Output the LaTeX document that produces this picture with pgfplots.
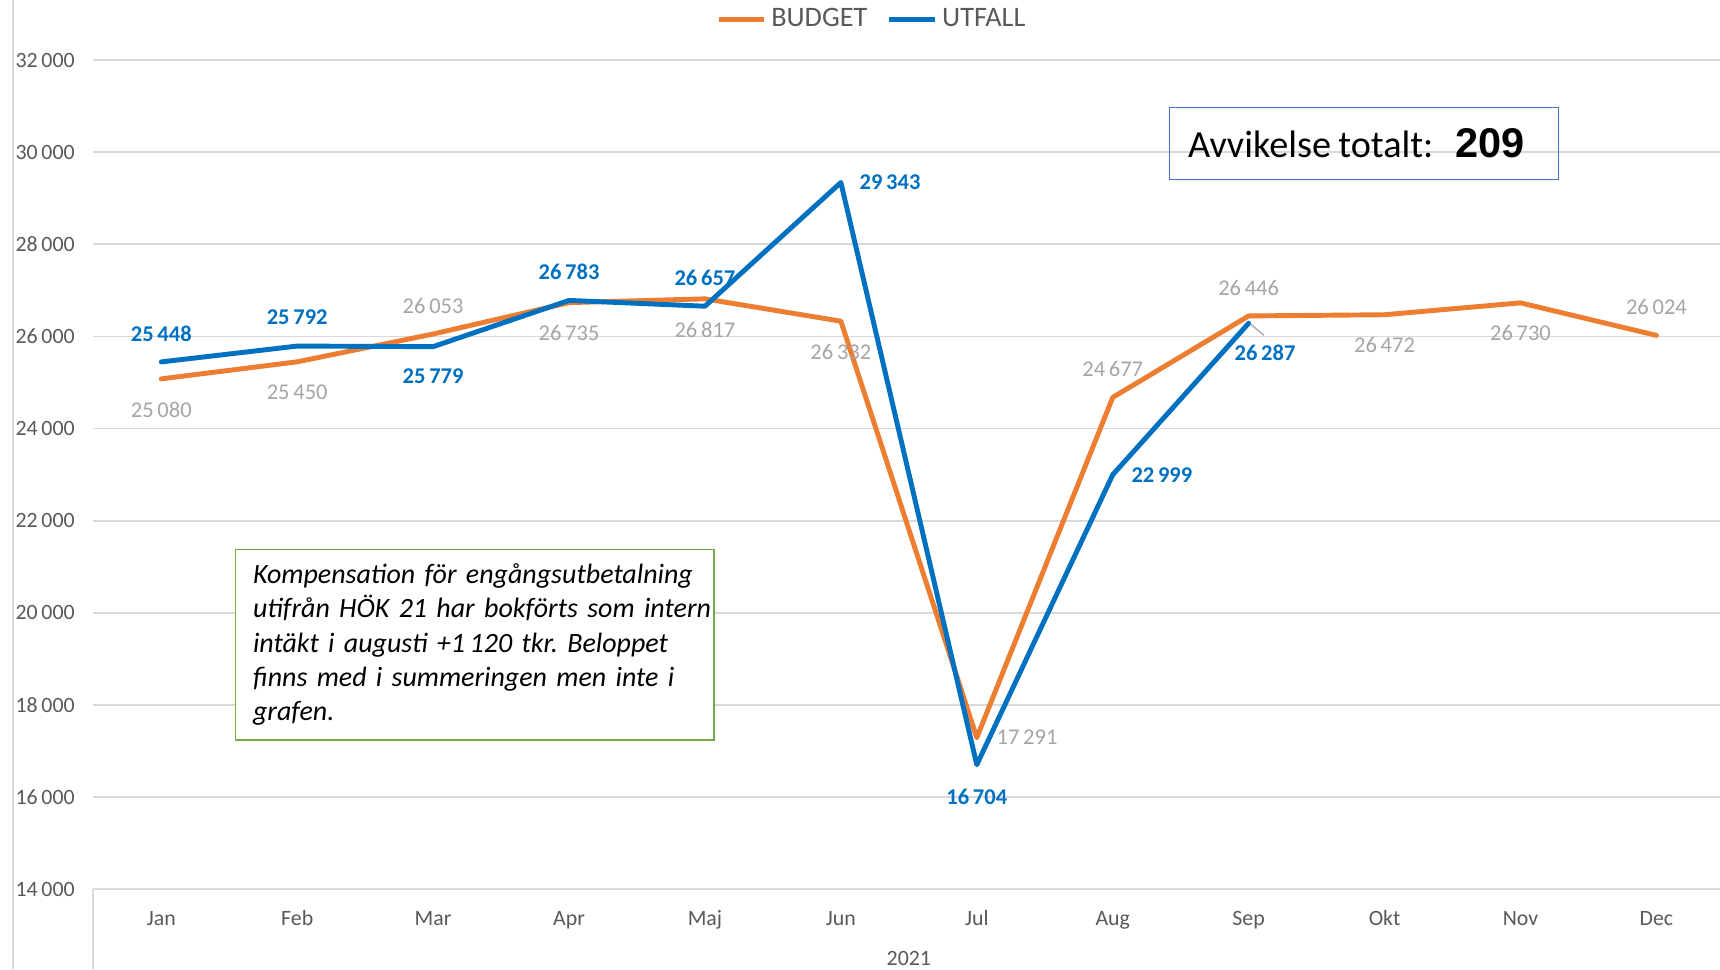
\documentclass[border=0pt]{standalone}
\usepackage{fontspec}
\setmainfont{Carlito}
\newfontfamily\arialfont{Liberation Sans}
\usepackage{pgfplots}
\pgfplotsset{compat=1.18}
\usepackage{pgfplotstable}
\definecolor{bud}{HTML}{ED7D31}
\definecolor{utf}{HTML}{0070C0}
\definecolor{gridc}{HTML}{D9D9D9}
\definecolor{tickc}{HTML}{595959}
\definecolor{lblg}{HTML}{A5A5A5}
\definecolor{boxb}{HTML}{4472C4}
\definecolor{boxg}{HTML}{70AD47}
\frenchspacing

\pgfplotstableread{
x y dx dy
0 25080 0 -14
1 25450 0 -14
2 26053 0 13
3 26735 0 -14
4 26817 0 -14
5 26332 0 -14
6 17291 23 0
7 24677 0 13
8 26446 0 13
9 26472 0 -14
10 26730 0 -14
11 26024 0 13
}\budget

\pgfplotstableread{
x y dx dy
0 25448 0 13
1 25792 0 13
2 25779 0 -13.5
3 26783 0 13
4 26657 0 13
5 29343 22.5 0
6 16704 0 -14.5
7 22999 22.5 0
8 26287 7.5 -13.5
}\utfall

\begin{document}
\begin{tikzpicture}
\path[use as bounding box] (-42.7pt,-36.5pt) rectangle (744.3pt,406.9pt);
\draw[gridc, line width=0.8pt] (-36.7pt,-36.5pt) -- (-36.7pt,406.9pt);
\begin{axis}[
  at={(0,0)}, anchor=south west,
  scale only axis, width=746.3pt, height=379.4pt,
  xmin=-0.5, xmax=11.5, ymin=14000, ymax=32000,
  xtick={0,...,11},
  xticklabels={Jan,Feb,Mar,Apr,Maj,Jun,Jul,Aug,Sep,Okt,Nov,Dec},
  ytick={14000,16000,...,32000},
  scaled y ticks=false,
  yticklabel={\pgfmathprintnumber[fixed, precision=0]{\tick}},
  ymajorgrids, grid style={gridc, line width=0.8pt},
  axis line style={draw=none}, major tick length=0pt,
  tick label style={font=\fontsize{10}{12}\selectfont, text=tickc},
  xticklabel style={anchor=base, yshift=-16.5pt},
  yticklabel style={anchor=east, xshift=-5pt},
  /pgf/number format/1000 sep={\,},
  /pgf/number format/assume math mode=true,
  xlabel={2021},
  xlabel style={at={(axis description cs:0.5,0)}, anchor=base, yshift=-35pt, font=\fontsize{10}{12}\selectfont, text=tickc},
  clip=false,
  legend columns=2,
  legend style={at={(0.478,1.049)}, anchor=center, draw=none, fill=none,
    font=\fontsize{12.9}{14}\selectfont, text=tickc,
    /tikz/every even column/.append style={column sep=7pt}},
  legend image code/.code={\draw[#1, line width=2.25pt] (0pt,0pt) -- (21pt,0pt);},
]
\addlegendimage{bud}
\addlegendentry{BUDGET}
\addlegendimage{utf}
\addlegendentry{UTFALL}
\addplot[bud, line width=2.25pt, line join=round, line cap=round, forget plot,
  nodes near coords, point meta=y,
  visualization depends on={\thisrow{dx} \as \dx},
  visualization depends on={\thisrow{dy} \as \dy},
  nodes near coords style={font=\fontsize{10.3}{12}\selectfont, text=lblg, inner sep=0pt,
    anchor=center, xshift=\dx pt, yshift=\dy pt}]
  table[x=x, y=y] {\budget};
\addplot[utf, line width=2.25pt, line join=round, line cap=round, forget plot,
  nodes near coords, point meta=y,
  visualization depends on={\thisrow{dx} \as \dx},
  visualization depends on={\thisrow{dy} \as \dy},
  nodes near coords style={font=\fontsize{10.3}{12}\selectfont\bfseries, text=utf, inner sep=0pt,
    anchor=center, xshift=\dx pt, yshift=\dy pt}]
  table[x=x, y=y] {\utfall};
\draw[lblg, line width=0.6pt] (axis cs:8,26287) ++(1pt,-0.5pt) -- ++(6pt,-5pt);
\draw[gridc, line width=0.8pt] (rel axis cs:0,0) -- ++(0pt,-36.5pt);
\node[draw=boxg, line width=0.8pt, fill=white, anchor=north west,
  inner xsep=8pt, inner ysep=6pt, text width=203pt, minimum height=87pt,
  align=left, font=\fontsize{12.8}{15.75}\selectfont\itshape]
  at (axis cs:0.54,21395)
  {\mbox{Kompensation för engångsutbetalning}\\\mbox{utifrån HÖK 21 har bokförts som intern}\\\mbox{intäkt i augusti +1\,120 tkr. Beloppet}\\\mbox{finns med i summeringen men inte i}\\\mbox{grafen.}};
\node[draw=boxb, line width=0.8pt, anchor=west,
  inner xsep=8.5pt, inner ysep=0pt, text width=161pt, minimum height=33pt, align=left]
  at (axis cs:7.411,30189)
  {{\fontsize{17.5}{20}\selectfont Avvikelse totalt:}\hspace{10pt}{\arialfont\bfseries\fontsize{19}{22}\selectfont 209}};
\end{axis}
\end{tikzpicture}
\end{document}
